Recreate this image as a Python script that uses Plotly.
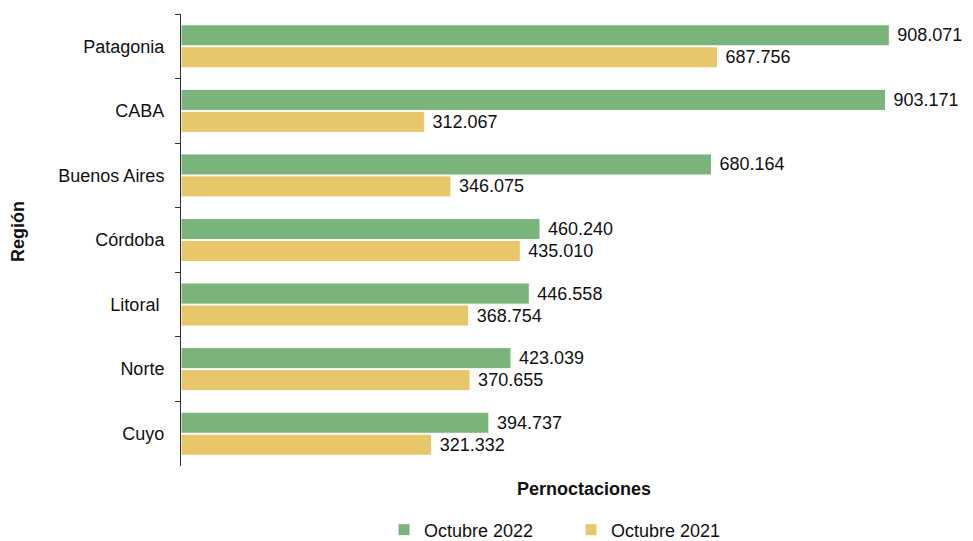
import plotly.graph_objects as go

regiones = ["Patagonia", "CABA", "Buenos Aires", "Córdoba", "Litoral ", "Norte", "Cuyo"]
oct_2022 = [908071, 903171, 680164, 460240, 446558, 423039, 394737]
oct_2021 = [687756, 312067, 346075, 435010, 368754, 370655, 321332]

verde = "#7BB47B"
amarillo = "#E8C66A"
fuente = "Liberation Sans, Arial, Helvetica, sans-serif"

fig = go.Figure()
fig.add_trace(go.Bar(
    y=regiones, x=oct_2022, orientation="h", name="Octubre 2022",
    marker=dict(color=verde, line=dict(color="white", width=1)),
    texttemplate="\u00a0%{x:,}", textposition="outside",
    textfont=dict(size=18, color="#111111", family=fuente), cliponaxis=False,
))
fig.add_trace(go.Bar(
    y=regiones, x=oct_2021, orientation="h", name="Octubre 2021",
    marker=dict(color=amarillo, line=dict(color="white", width=1)),
    texttemplate="\u00a0%{x:,}", textposition="outside",
    textfont=dict(size=18, color="#111111", family=fuente), cliponaxis=False,
))

fig.update_layout(
    width=965, height=533,
    margin=dict(l=173, r=12, t=6, b=75, autoexpand=False),
    paper_bgcolor="white", plot_bgcolor="white",
    barmode="group", bargap=0.32, bargroupgap=0.04,
    separators=",.",
    font=dict(family=fuente, size=18, color="#111111"),
    showlegend=True,
    legend=dict(orientation="h", x=0.5, xanchor="center", y=-0.1416, yanchor="middle",
                font=dict(size=18), traceorder="normal", itemwidth=30,
                entrywidth=142),
    xaxis=dict(range=[0, 1000000], visible=False, showgrid=False, zeroline=False,
               automargin=False),
    yaxis=dict(autorange="reversed", type="category", showline=True, linecolor="#333333",
               linewidth=1, ticks="outside", ticklen=5, tickcolor="#333333",
               tickson="boundaries", showgrid=False, ticklabelstandoff=12,
               tickfont=dict(size=18), automargin=False),
    annotations=[
        dict(text="<b>Pernoctaciones</b>", xref="paper", yref="paper", x=0.517, y=-0.024,
             xanchor="center", yanchor="top", showarrow=False, font=dict(size=18)),
        dict(text="<b>Región</b>", xref="paper", yref="paper", x=-0.209, y=0.52,
             textangle=-90, xanchor="center", yanchor="middle", showarrow=False,
             font=dict(size=18)),
    ],
)

fig.write_html("out.html")
